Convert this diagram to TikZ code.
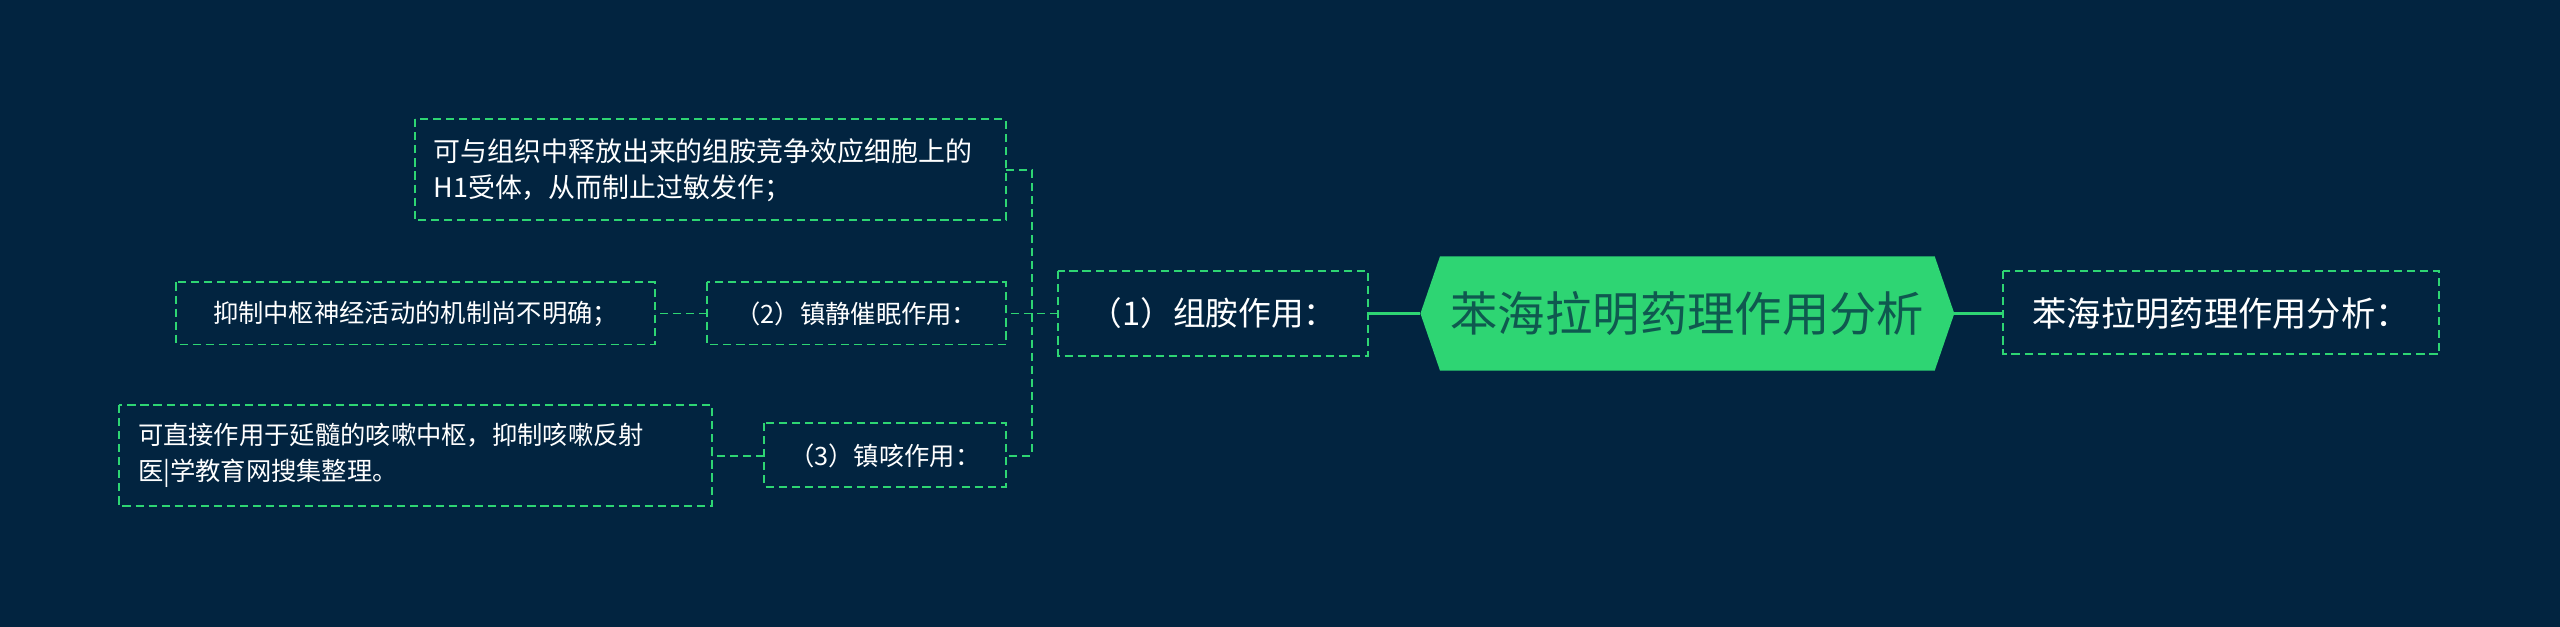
\documentclass[tikz,border=0pt]{standalone}
\usepackage{fontspec}
\setmainfont{Noto Sans CJK SC}
\definecolor{bg}{HTML}{022440}
\definecolor{gr}{HTML}{2ED573}
\begin{document}
\begin{tikzpicture}[x=1pt,y=-1pt,
  box/.style={draw=gr,dash pattern=on 5pt off 3pt,line width=1.2pt,text=white,inner sep=0pt},
  con/.style={draw=gr,dash pattern=on 5pt off 3pt,line width=1.2pt},
  sol/.style={draw=gr,line width=2.4pt}]
\fill[bg] (0,0) rectangle (1568,384);
\useasboundingbox (0,0) rectangle (1568,384);
\fill[gr] (870,192) -- (882,157) -- (1185,157) -- (1197,192) -- (1185,227) -- (882,227) -- cycle;
\node[text=bg!70!gr,font=\fontsize{29}{32}\selectfont] (c) at (1033.5,192) {苯海拉明药理作用分析};
\coordinate (cl) at (870,192); \coordinate (cr) at (1197,192);
\draw[box] (1227,166) rectangle (1494,217);
\node[text=white,font=\fontsize{21}{24}\selectfont] (r) at (1360.5,192) {苯海拉明药理作用分析：};
\coordinate (rl) at (1227,192);
\draw[sol] (cr) -- (rl);
\draw[box] (648,166) rectangle (838,218);
\node[text=white,font=\fontsize{20}{24}\selectfont] (n1) at (743,192) {（1）组胺作用：};
\coordinate (n1r) at (838,192); \coordinate (n1l) at (648,192);
\draw[sol] (n1r) -- (cl);
\draw[box] (254,73) rectangle (616,135);
\node[text=white,font=\fontsize{16.5}{22}\selectfont,align=left,anchor=west] (a) at (262,104) {可与组织中释放出来的组胺竞争效应细胞上的\\H1受体，从而制止过敏发作；};
\draw[box] (433,173) rectangle (616,211);
\node[text=white,font=\fontsize{15.5}{20}\selectfont] (n2) at (524.5,192) {（2）镇静催眠作用：};
\draw[box] (108,173) rectangle (401,211);
\node[text=white,font=\fontsize{15.5}{20}\selectfont] (n2c) at (254.5,192) {抑制中枢神经活动的机制尚不明确；};
\draw[box] (468,259) rectangle (616,298);
\node[text=white,font=\fontsize{15.5}{20}\selectfont] (n3) at (542,279) {（3）镇咳作用：};
\draw[box] (73,248) rectangle (436,310);
\node[text=white,font=\fontsize{15.5}{22}\selectfont,align=left,anchor=west] (n3c) at (81,279) {可直接作用于延髓的咳嗽中枢，抑制咳嗽反射\\医|学教育网搜集整理。};
\coordinate (j) at (632,192);
\draw[con] (n1l) -- (j);
\draw[con] (616,104) -| (632,279) -- (616,279);
\draw[con] (j) -- (616,192);
\draw[con] (433,192) -- (401,192);
\draw[con] (468,279) -- (436,279);
\end{tikzpicture}
\end{document}
